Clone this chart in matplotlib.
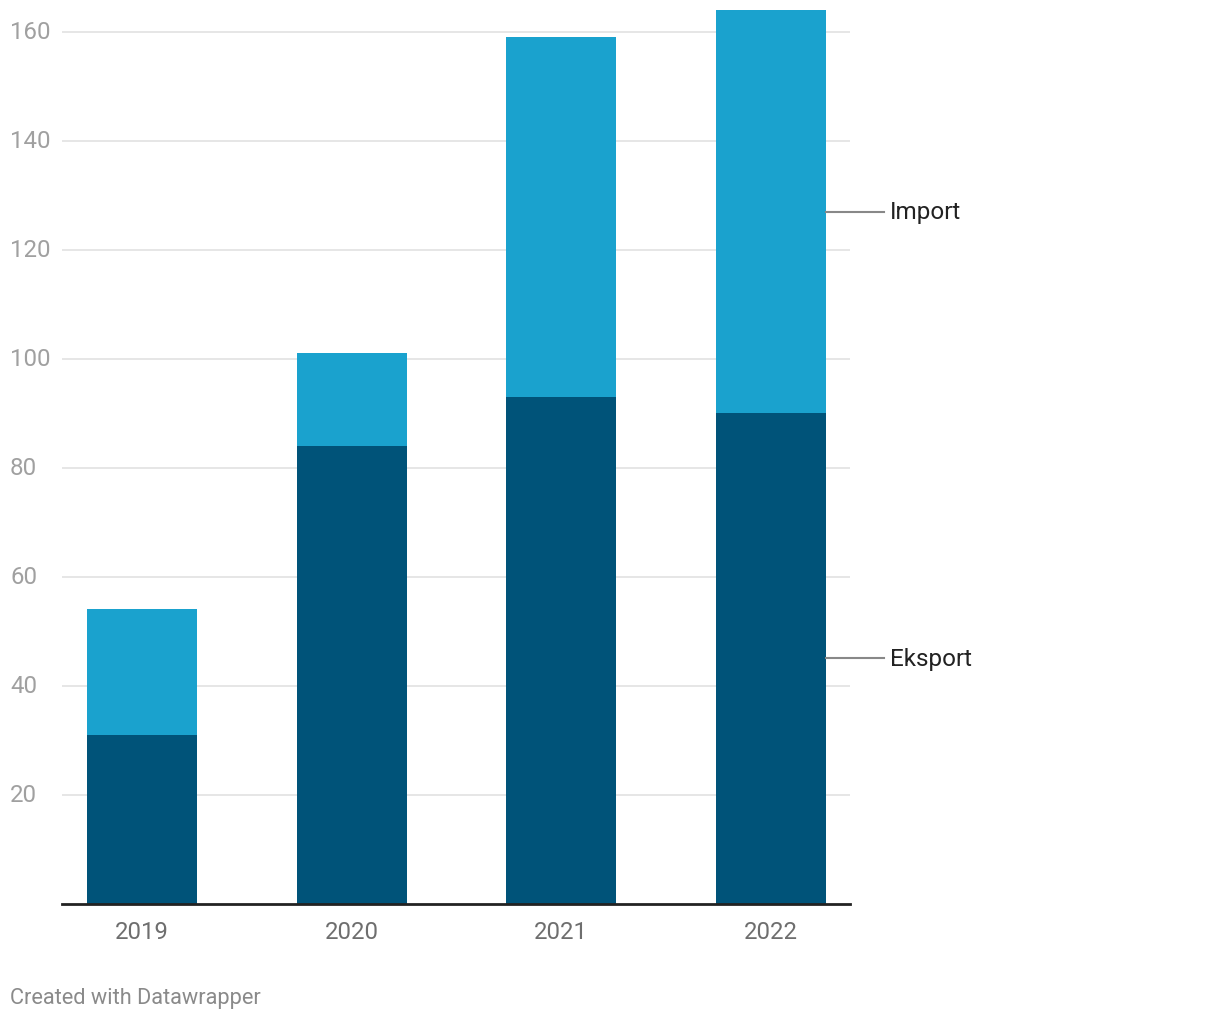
import numpy as np
import matplotlib.pyplot as plt

# data
years = ["2019", "2020", "2021", "2022"]
eksport = [31, 84, 93, 90]
importv = [23, 17, 66, 74]
yticks = [20, 40, 60, 80, 100, 120, 140, 160]

c_eks = "#005379"
c_imp = "#1aa2ce"

plt.rcParams['font.family'] = ['Roboto', 'DejaVu Sans']

fig = plt.figure(figsize=(12.2, 10.2), dpi=100)
W, H = 1220, 1020
ax = fig.add_axes([62 / W, (H - 904.5) / H, (850 - 62) / W, (904.5 - 11) / H])

x = np.arange(len(years))
bw = 0.525
ax.bar(x, eksport, width=bw, color=c_eks, zorder=3)
ax.bar(x, importv, width=bw, bottom=eksport, color=c_imp, zorder=3)

ax.set_xlim(-0.382, 3.377)
ax.set_ylim(0, 164)

for t in yticks:
    ax.axhline(t, color="#e2e2e2", lw=1.2, zorder=1)
    ax.text(10 / W, ax.transData.transform((0, t))[1] / fig.dpi / 10.2, str(t),
            transform=fig.transFigure, ha="left", va="center",
            fontsize=17.3, color="#a0a0a0")
ax.axhline(0, color="#222222", lw=2, zorder=4, clip_on=False)

ax.set_yticks([])
ax.set_xticks(x)
ax.set_xticklabels(years, fontsize=17.2, color="#6e6e6e")
ax.tick_params(axis="x", length=0, pad=12)
for s in ax.spines.values():
    s.set_visible(False)

# direct labels on the last bar
last = len(years) - 1
x0 = x[last] + bw / 2
x1 = x0 + 58 / 209.6
for name, yv in [("Import", eksport[last] + importv[last] / 2),
                 ("Eksport", eksport[last] / 2)]:
    ax.plot([x0, x1], [yv, yv], color="#888888", lw=1.5, clip_on=False, zorder=5)
    ax.text(x1 + 6 / 209.6, yv, name, ha="left", va="center",
            fontsize=17.5, color="#222222", clip_on=False)

fig.text(10 / W, 1 - 998.5 / H, "Created with Datawrapper", ha="left",
         va="center", fontsize=15.7, color="#8a8a8a")

fig.savefig("out.png", dpi=100)
